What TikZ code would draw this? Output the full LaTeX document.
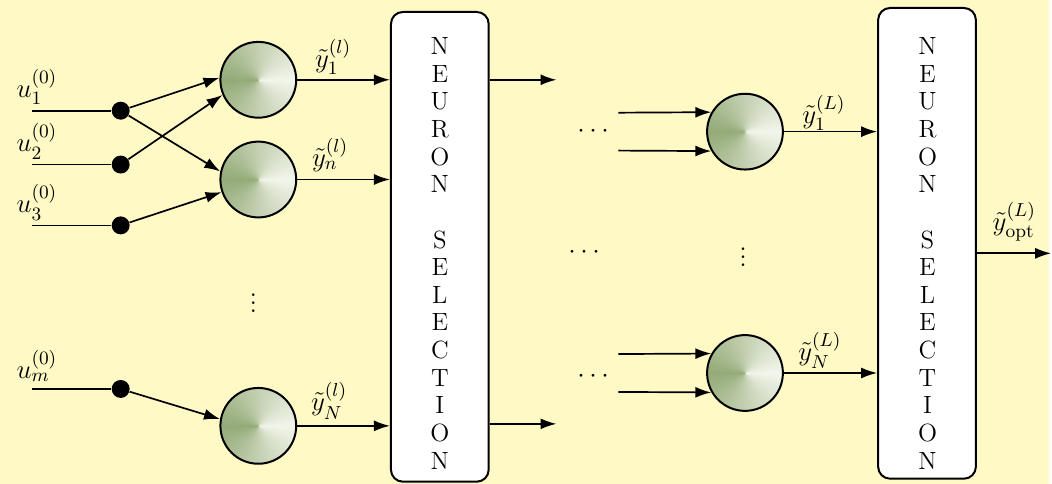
\RequirePackage{fix-cm}
\documentclass[tikz,border=0pt]{standalone}
\usepackage{amsmath}
\usetikzlibrary{positioning,arrows.meta,calc}
\definecolor{paper}{HTML}{FFF9C6}
\pgfdeclarefunctionalshading{conic}{\pgfpoint{-50bp}{-50bp}}{\pgfpoint{50bp}{50bp}}{}{
  exch 0.001 add atan 180 sub abs 180 div
  dup dup 0.37 mul 0.58 add 3 1 roll
  0.29 mul 0.67 add exch 0.45 mul 0.47 add
}

\begin{document}
\begin{tikzpicture}[
  x=0.5pt, y=-0.5pt,
  >={Latex[length=8pt,width=5.5pt]},
  font=\fontsize{12.5}{13.85}\selectfont,
  neuron/.style={circle, draw, line width=1pt, minimum size=38pt, inner sep=0pt, shading=conic},
  selbox/.style={draw, line width=1pt, fill=white, rounded corners=6pt, minimum width=49pt, inner sep=0pt},
  seltxt/.style={align=center, inner sep=0pt},
  inpt/.style={circle, fill=black, minimum size=9pt, inner sep=0pt},
  lbl/.style={inner sep=0pt, font=\fontsize{13.5}{15}\selectfont},
  arr/.style={->, line width=0.85pt},
  wire/.style={line width=0.85pt}
]
  \fill[paper] (0,0) rectangle (1052,485);

  % selection boxes
  \node[selbox, minimum height=235.5pt] (sel1) at (441,247.5) {};
  \node[seltxt] (txt1) at (441,254) {N\\E\\U\\R\\O\\N\\[13.85pt]S\\E\\L\\E\\C\\T\\I\\O\\N};
  \node[selbox, minimum height=236pt] (sel2) at (929.5,244) {};
  \node[seltxt] (txt2) at (930,254) {N\\E\\U\\R\\O\\N\\[13.85pt]S\\E\\L\\E\\C\\T\\I\\O\\N};

  % first layer neurons
  \node[neuron] (n1) at (259,80) {};
  \node[neuron] (n2) at (259,180) {};
  \node[neuron] (nN) at (259,427) {};
  \node[lbl, font=\fontsize{16}{18}\selectfont] (vd1) at (254,298) {$\vdots$};

  % inputs
  \node[inpt] (d1) at (121,111) {};
  \node[inpt] (d2) at (121,165) {};
  \node[inpt] (d3) at (121,226) {};
  \node[inpt] (dm) at (121,390) {};
  \coordinate (s1) at (32,111);
  \coordinate (s2) at (32,165);
  \coordinate (s3) at (32,226);
  \coordinate (sm) at (32,390);
  \draw[wire] (s1) -- (d1);
  \draw[wire] (s2) -- (d2);
  \draw[wire] (s3) -- (d3);
  \draw[wire] (sm) -- (dm);
  \node[lbl] (u1) at (37,87) {$u_1^{(0)}$};
  \node[lbl] (u2) at (37,142) {$u_2^{(0)}$};
  \node[lbl] (u3) at (37,203) {$u_3^{(0)}$};
  \node[lbl] (um) at (37,367) {$u_m^{(0)}$};

  \draw[arr] (d1) -- (n1.177);
  \draw[arr] (d1) -- (n2.168);
  \draw[arr] (d2) -- (n1.203);
  \draw[arr] (d3) -- (n2.199);
  \draw[arr] (dm) -- (nN.170);

  % first layer outputs
  \draw[arr] (n1) -- (n1 -| sel1.west);
  \draw[arr] (n2) -- (n2 -| sel1.west);
  \draw[arr] (nN) -- (nN -| sel1.west);
  \node[lbl] (y1) at (334,57) {$\tilde{y}_1^{(l)}$};
  \node[lbl] (yn) at (331,155) {$\tilde{y}_n^{(l)}$};
  \node[lbl] (yN) at (330,402) {$\tilde{y}_N^{(l)}$};

  \coordinate (o1) at (558,80);
  \coordinate (oN) at (558,425);
  \draw[arr] (o1 -| sel1.east) -- (o1);
  \draw[arr] (oN -| sel1.east) -- (oN);

  \node[lbl] (hd1) at (597,132) {$\cdots$};
  \node[lbl] (hd2) at (588,253) {$\cdots$};
  \node[lbl] (hd3) at (597,378) {$\cdots$};

  % last layer neurons
  \node[neuron] (m1) at (747,132) {};
  \node[neuron] (mN) at (747,374) {};
  \node[lbl, font=\fontsize{16}{18}\selectfont] (vd2) at (745,252) {$\vdots$};
  \coordinate (t1) at (620,113);
  \coordinate (t2) at (620,151);
  \coordinate (t3) at (620,355);
  \coordinate (t4) at (620,393);
  \draw[arr] (t1) -- (m1.150);
  \draw[arr] (t2) -- (m1.210);
  \draw[arr] (t3) -- (mN.150);
  \draw[arr] (t4) -- (mN.210);

  \draw[arr] (m1) -- (m1 -| sel2.west);
  \draw[arr] (mN) -- (mN -| sel2.west);
  \node[lbl] (z1) at (826,113) {$\tilde{y}_1^{(L)}$};
  \node[lbl] (zN) at (822,351) {$\tilde{y}_N^{(L)}$};

  % output
  \coordinate (out) at (1054,254);
  \draw[arr] (out -| sel2.east) -- (out);
  \node[lbl] (yopt) at (1017,222) {$\tilde{y}_{\text{opt}}^{(L)}$};

  \useasboundingbox (0,0) rectangle (1052,485);
\end{tikzpicture}
\end{document}
